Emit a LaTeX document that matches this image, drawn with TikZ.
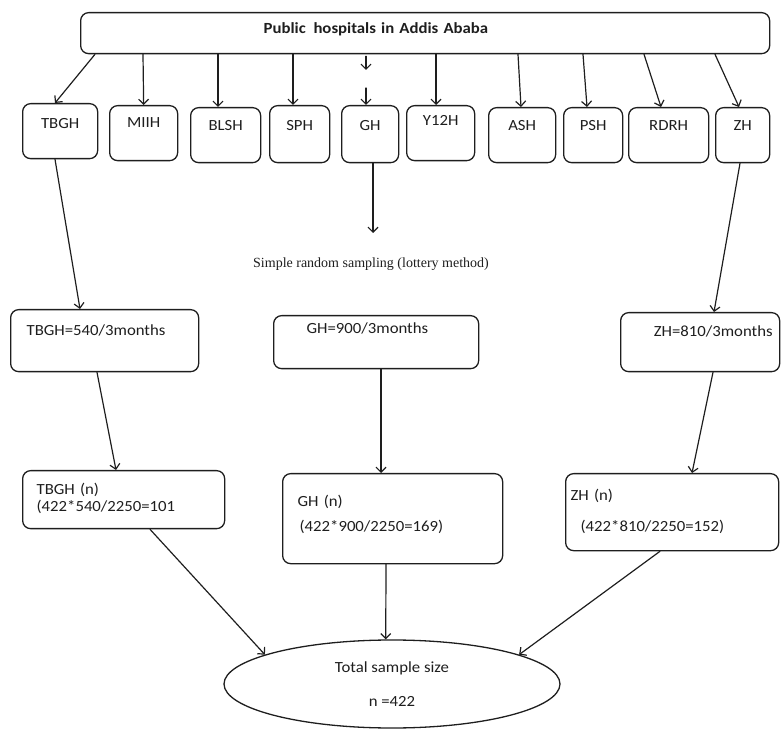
\documentclass[tikz,border=0pt]{standalone}
\usepackage{fontspec}
\usetikzlibrary{arrows.meta,shapes.geometric}
\newfontfamily\boxfont[FakeStretch=1.08]{Carlito}
\newfontfamily\notefont{Liberation Serif}
\definecolor{c1e1e1e}{RGB}{30,30,30}
\def \globalscale {1.000000}
\tikzset{
  hbox/.style={draw=c1e1e1e, line width=1.3pt, rounded corners=8pt, anchor=north west,
    inner xsep=0pt, inner ysep=0pt, text=c1e1e1e,
    font=\boxfont\fontsize{15.5}{17}\selectfont},
  arr/.style={draw=c1e1e1e, line width=1.2pt, line cap=round,
    -{Straight Barb[length=5pt,width=10pt]}},
}
\begin{document}
\begin{tikzpicture}[y=1pt, x=1pt, yscale=\globalscale,xscale=\globalscale, every node/.append style={scale=\globalscale}]
  \useasboundingbox (0.0, 0.0) rectangle (781.0, 731.0);

  % top box
  \node[hbox, inner xsep=183pt, text width=323pt, align=left, text height=21pt, text depth=20pt] (hosp) at (80.0, 719.0){\bfseries Public\, hospitals in Addis Ababa};

  % hospitals
  \node[hbox, text width=75pt, align=center, text height=25pt, text depth=30pt] (tbgh) at (22.0, 628.0){TBGH};
  \node[hbox, text width=68pt, align=center, text height=22pt, text depth=33pt] (miih) at (109.0, 626.0){MIIH};
  \node[hbox, text width=70pt, align=center, text height=23pt, text depth=32pt] (blsh) at (190.0, 624.0){BLSH};
  \node[hbox, text width=60pt, align=center, text height=25pt, text depth=32pt] (sph) at (269.0, 626.0){SPH};
  \node[hbox, text width=57pt, align=center, text height=25pt, text depth=32pt] (gh) at (341.0, 626.0){GH};
  \node[hbox, text width=68pt, align=center, text height=20pt, text depth=35pt] (y12h) at (406.0, 626.0){Y12H};
  \node[hbox, text width=67pt, align=center, text height=23pt, text depth=32pt] (ash) at (488.0, 624.0){ASH};
  \node[hbox, text width=59pt, align=center, text height=23pt, text depth=32pt] (psh) at (563.0, 624.0){PSH};
  \node[hbox, text width=80pt, align=center, text height=23pt, text depth=32pt] (rdrh) at (628.0, 624.0){RDRH};
  \node[hbox, text width=54pt, align=center, text height=23pt, text depth=32pt] (zh) at (715.0, 624.0){ZH};

  \coordinate (ghmid) at (366.0, 661.0);
  \coordinate (ghin) at (366.0, 643.0);
  \coordinate (srs) at (373.0, 498.0);

  \node[text=c1e1e1e, anchor=base, font=\notefont\fontsize{14}{16}\selectfont] (srstext) at (371.0, 463.0){Simple random sampling (lottery method)};

  % monthly totals
  \node[hbox, inner xsep=16pt, text width=156pt, align=left, text height=26pt, text depth=36pt] (tbghm) at (10.0, 422.0){TBGH=540/3months};
  \node[hbox, inner xsep=33pt, text width=139pt, align=left, text height=18pt, text depth=35pt] (ghm) at (273.0, 416.0){GH=900/3months};
  \node[hbox, inner xsep=7pt, text width=145pt, align=right, text height=24pt, text depth=35pt] (zhm) at (620.0, 419.0){ZH=810/3months};

  % sample per hospital
  \node[hbox, inner xsep=14pt, text width=174pt, align=left, text height=24pt, text depth=34pt] (tbghn) at (22.0, 261.0){TBGH (n)\\(422*540/2250=101};
  \node[hbox, inner xsep=15pt, text width=190pt, align=left, text height=33pt, text depth=57pt] (ghn) at (282.0, 258.0){GH (n)\\[8pt]\hspace*{2pt}(422*900/2250=169)};
  \node[hbox, inner xsep=5pt, text width=203pt, align=left, text height=27pt, text depth=50pt] (zhn) at (565.0, 258.0){ZH (n)\\[14pt]\hspace*{10pt}(422*810/2250=152)};

  \node[ellipse, draw=c1e1e1e, line width=1.3pt, inner sep=0pt, minimum width=336pt, minimum height=88pt, align=center, text=c1e1e1e, font=\boxfont\fontsize{15.5}{17}\selectfont] (total) at (392.0, 47.0){Total sample size\\[17pt]n =422};

  % arrows
  \draw[arr] ([xshift=15]hosp.south west) -- ([xshift=33]tbgh.north west);
  \draw[arr] ([xshift=63]hosp.south west) -- (miih.north);
  \draw[arr] ([xshift=138]hosp.south west) -- ([xshift=28]blsh.north west);
  \draw[arr] ([xshift=213]hosp.south west) -- ([xshift=24]sph.north west);
  \draw[arr] ([shift={(286,-2)}]hosp.south west) -- (ghmid);
  \draw[arr] (ghin) -- ([xshift=25]gh.north west);
  \draw[arr] ([xshift=356]hosp.south west) -- ([xshift=30]y12h.north west);
  \draw[arr] ([xshift=438]hosp.south west) -- ([xshift=33]ash.north west);
  \draw[arr] ([xshift=503]hosp.south west) -- ([xshift=24]psh.north west);
  \draw[arr] ([xshift=564]hosp.south west) -- ([xshift=33]rdrh.north west);
  \draw[arr] ([xshift=635]hosp.south west) -- ([xshift=24]zh.north west);
  \draw[arr] ([xshift=32]gh.south west) -- (srs);

  \draw[arr] ([xshift=33]tbgh.south west) -- ([xshift=70]tbghm.north west);
  \draw[arr] ([xshift=25]zh.south west) -- ([xshift=94]zhm.north west);

  \draw[arr] ([xshift=87]tbghm.south west) -- ([xshift=94]tbghn.north west);
  \draw[arr] ([xshift=108]ghm.south west) -- ([xshift=99]ghn.north west);
  \draw[arr] ([xshift=93]zhm.south west) -- ([xshift=127]zhn.north west);

  \draw[arr] ([xshift=128]tbghn.south west) -- (total.167);
  \draw[arr] ([xshift=104]ghn.south west) -- (total.98);
  \draw[arr] ([xshift=95]zhn.south west) -- (total.13);

\end{tikzpicture}
\end{document}
